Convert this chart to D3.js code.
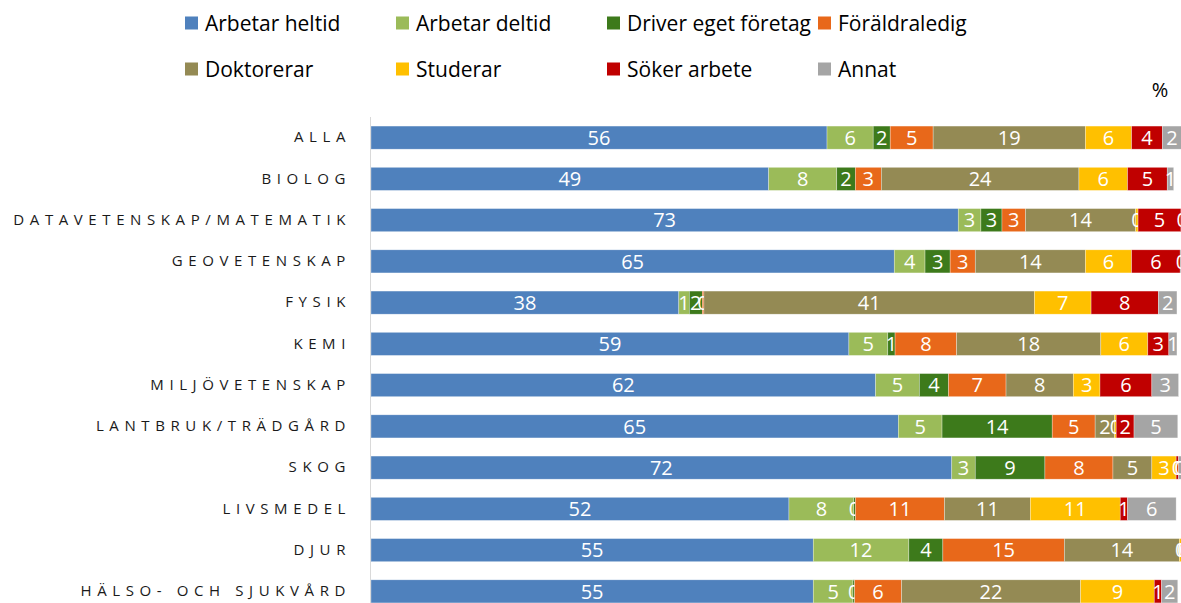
<!DOCTYPE html>
<html>
<head>
<meta charset="utf-8">
<script src="https://cdn.jsdelivr.net/npm/d3@7"></script>
<style>
  body { margin: 0; background: #fff; overflow: hidden; }
  svg { display: block; font-family: "Open Sans", "Liberation Sans", sans-serif; }
</style>
</head>
<body>
<div id="chart"></div>
<script>
const categories = [
    "ALLA", "BIOLOG", "DATAVETENSKAP/MATEMATIK", "GEOVETENSKAP", "FYSIK", "KEMI",
    "MILJÖVETENSKAP", "LANTBRUK/TRÄDGÅRD", "SKOG", "LIVSMEDEL", "DJUR", "HÄLSO- OCH SJUKVÅRD"
]

const seriesNames = [
    "Arbetar heltid", "Arbetar deltid", "Driver eget företag", "Föräldraledig",
    "Doktorerar", "Studerar", "Söker arbete", "Annat"
]

// percent per category, same order as categories
const arbetarHeltid = [56.3, 49.1, 72.5, 64.6, 38.0, 59.0, 62.3, 65.1, 71.7, 51.6, 54.6, 54.6]
const arbetarDeltid = [5.7, 8.4, 2.8, 3.8, 1.3, 4.8, 5.4, 5.4, 2.9, 8.0, 11.8, 4.9]
const driverForetag = [2.1, 2.3, 2.6, 3.1, 1.6, 0.9, 3.6, 13.6, 8.6, 0.2, 4.2, 0.2]
const foraldraledig = [5.3, 3.2, 2.9, 3.1, 0.2, 7.6, 7.1, 5.3, 8.4, 11.0, 15.0, 5.8]
const doktorerar = [18.8, 24.4, 13.6, 13.6, 40.8, 17.8, 8.3, 2.4, 4.8, 10.6, 14.2, 22.1]
const studerar = [5.7, 6.0, 0.3, 5.7, 7.0, 5.8, 3.3, 0.2, 3.0, 11.1, 0.3, 9.1]
const sokerArbete = [3.8, 4.9, 5.3, 6.0, 8.3, 2.6, 6.4, 2.2, 0.3, 0.9, 0.2, 0.9]
const annat = [2.4, 0.8, 0.3, 0.3, 2.3, 1.0, 3.3, 5.4, 0.4, 6.0, 0.3, 2.0]

const seriesValues = [arbetarHeltid, arbetarDeltid, driverForetag, foraldraledig,
    doktorerar, studerar, sokerArbete, annat]

const colors = ["#4F81BD", "#9BBB59", "#3D7A1B", "#E8681A", "#948A54", "#FFC000", "#C00000", "#A5A5A5"]

const width = 1181;
const height = 603;

const svg = d3.select("#chart")
    .append("svg")
    .attr("width", width)
    .attr("height", height);

// rows: category -> {series: value}
const rows = categories.map((c, i) => {
    const row = { category: c };
    seriesNames.forEach((s, j) => { row[s] = seriesValues[j][i]; });
    return row;
});

const stacked = d3.stack().keys(seriesNames)(rows);

const xScale = d3.scaleLinear()
    .domain([0, 100])
    .range([371, 1181]);

const yScale = d3.scaleBand()
    .domain(categories)
    .range([117, 612])
    .paddingInner(0.44)
    .paddingOuter(0.22);

const colorScale = d3.scaleOrdinal()
    .domain(seriesNames)
    .range(colors);

// bars
const layers = svg.selectAll(".layer")
    .data(stacked)
    .join("g")
    .attr("class", "layer")
    .attr("fill", d => colorScale(d.key));

layers.selectAll("rect")
    .data(d => d)
    .join("rect")
    .attr("x", d => xScale(d[0]))
    .attr("y", d => yScale(d.data.category))
    .attr("width", d => xScale(d[1]) - xScale(d[0]))
    .attr("height", yScale.bandwidth())
    .attr("stroke", "#fff")
    .attr("stroke-opacity", 0.5)
    .attr("stroke-width", 0.6);

// data labels
layers.selectAll("text")
    .data(d => d)
    .join("text")
    .attr("x", d => xScale((d[0] + d[1]) / 2))
    .attr("y", d => yScale(d.data.category) + yScale.bandwidth() / 2)
    .attr("dy", "0.36em")
    .attr("text-anchor", "middle")
    .attr("fill", "#fff")
    .style("font-size", "20px")
    .text(d => Math.round(d[1] - d[0]));

// vertical axis line
svg.append("line")
    .attr("x1", xScale(0) - 0.5)
    .attr("x2", xScale(0) - 0.5)
    .attr("y1", 117)
    .attr("y2", 612)
    .attr("stroke", "#D9D9D9")
    .attr("stroke-width", 1);

// category labels
const yAxis = svg.append("g")
    .attr("transform", `translate(${xScale(0) - 20},0)`)
    .call(d3.axisLeft(yScale).tickSize(0).tickPadding(0));
yAxis.select(".domain").remove();
yAxis.selectAll("text")
    .attr("fill", "#1a1a1a")
    .style("font-family", "'Open Sans', sans-serif")
    .style("font-size", "15px")
    .style("letter-spacing", "5.6px");

// legend
const legendCols = [185, 396, 607, 818];
const legendRows = [23, 69];
const legend = svg.selectAll(".legend-item")
    .data(seriesNames)
    .join("g")
    .attr("class", "legend-item")
    .attr("transform", (d, i) => `translate(${legendCols[i % 4]},${legendRows[Math.floor(i / 4)]})`);

legend.append("rect")
    .attr("x", 0)
    .attr("y", -6.5)
    .attr("width", 13)
    .attr("height", 13)
    .attr("fill", d => colorScale(d));

legend.append("text")
    .attr("x", 20)
    .attr("dy", "0.36em")
    .attr("fill", "#000")
    .style("font-size", "21px")
    .text(d => d);

svg.append("text")
    .attr("x", 1160)
    .attr("y", 90)
    .attr("dy", "0.36em")
    .attr("text-anchor", "middle")
    .style("font-size", "20px")
    .text("%");
</script>
</body>
</html>
